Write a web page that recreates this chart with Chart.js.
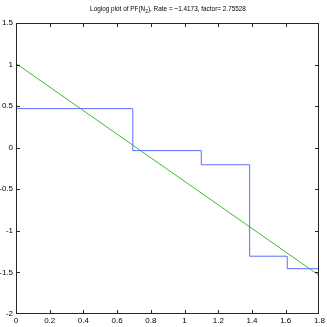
<!DOCTYPE html>
<html>
<head>
<meta charset="utf-8">
<script src="https://cdn.jsdelivr.net/npm/chart.js@4"></script>
<style>
  html, body { margin: 0; padding: 0; background: #fff; }
  #wrap { position: relative; width: 327px; height: 327px; }
  #c { position: absolute; left: 0; top: 0; }
  #title {
    position: absolute; left: 0; top: 4px; width: 336px; text-align: center;
    font: 8px "Liberation Sans", Arial, sans-serif; color: #000;
    transform: scaleX(0.8); transform-origin: 168px 0; white-space: nowrap;
  }
  #title sub { font-size: 6px; vertical-align: -2px; }
</style>
</head>
<body>
<div id="wrap">
  <canvas id="c" width="327" height="327"></canvas>
  <div id="title">Loglog plot of PF(N<sub>2</sub>), Rate = &minus;1.4173, factor= 2.75528</div>
</div>
<script>
// log(N) positions of the steps and the measured log(PF) levels
const logN = [0, 0.693, 1.099, 1.386, 1.609, 1.792];
const logPF = [0.47, -0.035, -0.205, -1.305, -1.455, -1.455];

// fitted line end points (rate -1.4173, log factor ~1.013)
const fitX = [0, 1.792];
const fitY = [1.013, -1.527];

const xTicks = [0, 0.2, 0.4, 0.6, 0.8, 1, 1.2, 1.4, 1.6, 1.8];
const yTicks = [-2, -1.5, -1, -0.5, 0, 0.5, 1, 1.5];

const toPts = (xs, ys) => xs.map((x, i) => ({ x: x, y: ys[i] }));
const fmt = v => String(Number(Number(v).toFixed(1)));

// MATLAB style box with inward ticks
const boxTicks = {
  id: 'matlabBox',
  afterDatasetsDraw(chart) {
    const ctx = chart.ctx;
    const a = chart.chartArea;
    const sx = chart.scales.x, sy = chart.scales.y;
    const L = 4;
    const l = Math.round(a.left), r = Math.round(a.right);
    const t = Math.round(a.top), b = Math.round(a.bottom);
    ctx.save();
    ctx.globalAlpha = 1;
    ctx.globalCompositeOperation = 'source-over';
    ctx.fillStyle = 'rgb(38,38,38)';
    xTicks.forEach(v => {
      const px = Math.min(Math.round(sx.getPixelForValue(v)), r - 1);
      ctx.fillRect(px, b - L, 1, L);
      ctx.fillRect(px, t, 1, L);
    });
    yTicks.forEach(v => {
      const py = Math.min(Math.round(sy.getPixelForValue(v)), b - 1);
      ctx.fillRect(l, py, L, 1);
      ctx.fillRect(r - L, py, L, 1);
    });
    ctx.fillRect(l, t, r - l, 1);
    ctx.fillRect(l, b - 1, r - l, 1);
    ctx.fillRect(l, t, 1, b - t);
    ctx.fillRect(r - 1, t, 1, b - t);
    ctx.restore();
  }
};

new Chart(document.getElementById('c'), {
  type: 'line',
  data: {
    datasets: [
      {
        data: toPts(logN, logPF),
        borderColor: '#5a6cff',
        borderWidth: 1,
        pointRadius: 0,
        stepped: 'before',
        fill: false
      },
      {
        data: toPts(fitX, fitY),
        borderColor: '#3cbb2c',
        borderWidth: 1,
        pointRadius: 0,
        fill: false
      }
    ]
  },
  options: {
    responsive: false,
    animation: false,
    layout: { padding: { left: 0, right: 7, top: 23, bottom: 0 } },
    plugins: { legend: { display: false }, tooltip: { enabled: false } },
    scales: {
      x: {
        type: 'linear', min: 0, max: 1.8,
        afterFit: s => { s.height = 13; },
        afterBuildTicks: s => { s.ticks = xTicks.map(v => ({ value: v })); },
        grid: { display: false, drawTicks: false },
        border: { display: false },
        ticks: {
          padding: 2, color: '#000', maxRotation: 0, autoSkip: false,
          font: { family: 'Liberation Sans', size: 8 },
          callback: fmt
        }
      },
      y: {
        type: 'linear', min: -2, max: 1.5,
        afterFit: s => { s.width = 16; },
        afterBuildTicks: s => { s.ticks = yTicks.map(v => ({ value: v })); },
        grid: { display: false, drawTicks: false },
        border: { display: false },
        ticks: {
          padding: 3, color: '#000', autoSkip: false,
          font: { family: 'Liberation Sans', size: 8 },
          callback: fmt
        }
      }
    }
  },
  plugins: [boxTicks]
});
</script>
</body>
</html>
